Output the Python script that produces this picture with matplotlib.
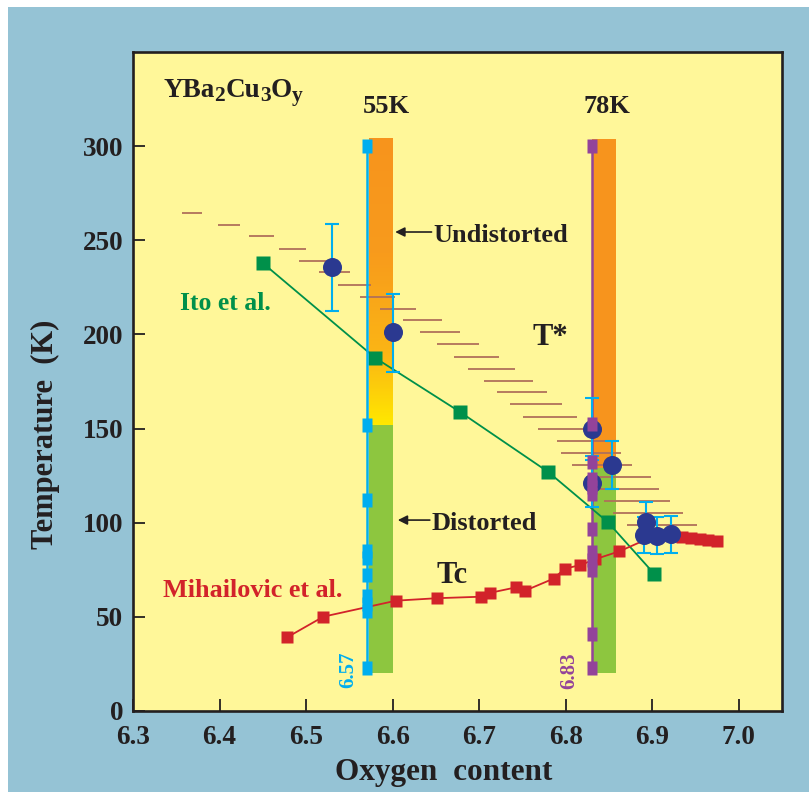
import matplotlib.pyplot as plt
import numpy as np
from matplotlib.colors import LinearSegmentedColormap
from matplotlib.patches import Rectangle
from matplotlib.transforms import offset_copy

plt.rcParams['font.family'] = ['Liberation Serif', 'DejaVu Serif']
plt.rcParams['font.weight'] = 'bold'
plt.rcParams['axes.labelweight'] = 'bold'

# Ito et al. (green)
ito_x = [6.450, 6.580, 6.678, 6.780, 6.849, 6.902]
ito_t = [237.9, 187.5, 158.8, 126.9, 100.2, 73.0]

# Mihailovic et al. Tc (red)
mih_x = [6.478, 6.520, 6.604, 6.651, 6.702, 6.713, 6.743, 6.753, 6.786, 6.799,
         6.817, 6.834, 6.862, 6.905, 6.915, 6.925, 6.935, 6.945, 6.955, 6.965, 6.975]
mih_t = [39.1, 50.1, 58.6, 59.9, 60.7, 62.8, 65.7, 63.9, 70.3, 75.6,
         77.5, 80.6, 84.8, 93.5, 93.5, 93.0, 92.5, 92.0, 91.5, 91.0, 90.5]

# T* points with error bars (blue)
tstar_x = [6.530, 6.600, 6.830, 6.830, 6.853, 6.893, 6.891, 6.905, 6.922]
tstar_t = [235.6, 201.1, 150.0, 121.2, 130.6, 100.5, 93.5, 93.0, 94.0]
tstar_lo = [23.0, 20.9, 14.6, 12.7, 12.7, 10.5, 9.5, 9.6, 10.0]
tstar_hi = [22.9, 20.2, 16.5, 12.1, 12.8, 10.5, 9.3, 9.8, 9.4]

# T* crossover region, short horizontal strokes
hatch_t = [264.7, 258.3, 252.1, 245.6, 239.2, 232.9, 226.5, 220.1, 213.7, 207.4,
           201.1, 194.7, 188.1, 181.8, 175.5, 169.2, 162.8, 156.4, 149.8, 143.5,
           137.1, 130.7, 124.4, 118.0, 111.6, 105.3, 98.9]
hatch_x0 = [6.357, 6.398, 6.434, 6.469, 6.492, 6.515, 6.537, 6.562, 6.585, 6.612,
            6.632, 6.651, 6.671, 6.687, 6.706, 6.721, 6.736, 6.751, 6.768, 6.790,
            6.795, 6.807, 6.824, 6.831, 6.844, 6.855, 6.871]
hatch_x1 = [6.380, 6.424, 6.463, 6.500, 6.527, 6.551, 6.575, 6.603, 6.627, 6.657,
            6.678, 6.700, 6.723, 6.741, 6.762, 6.779, 6.796, 6.813, 6.830, 6.855,
            6.864, 6.877, 6.899, 6.908, 6.921, 6.936, 6.952]

# samples measured at y = 6.57 and y = 6.83
y657 = 6.57
y657_t = [300, 152, 112, 85.2, 81.0, 72.2, 61.0, 57.0, 53.0, 22.7]
y683 = 6.83
y683_t = [300, 152.5, 132.5, 123, 119, 115.5, 96.5, 84.5, 80, 75, 41, 22.7]

# distorted / undistorted bands
band55_x = (6.573, 6.600)
band78_x = (6.831, 6.858)
band_top = 304
band_bottom = 20
band55_split = 152
band78_split = 129

# chemical formula pieces: (text, is_subscript)
formula = [('YBa', False), ('2', True), ('Cu', False), ('3', True),
           ('O', False), ('y', True)]

BLUE_BG = '#95C3D5'
FACE = '#FFF799'
ORANGE = '#F7941D'
YELLOW = '#FFE800'
GREEN_BAND = '#8DC63F'
CYAN = '#00AEEF'
PURPLE = '#93439A'
NAVY = '#2B3990'
RED = '#D2232A'
DKGREEN = '#00904A'
HATCH = '#B0705A'
INK = '#231F20'

fig = plt.figure(figsize=(8.09, 7.92), dpi=100)
fig.patch.set_facecolor('white')
fig.add_artist(Rectangle((8 / 809, 0), 1 - 8 / 809, 1 - 7 / 792,
                         transform=fig.transFigure, facecolor=BLUE_BG,
                         edgecolor='none', zorder=-10))

ax = fig.add_axes([133 / 809, 81 / 792, 649 / 809, 659 / 792])
ax.set_facecolor(FACE)

# 55K band: orange fading to yellow above, green below
grad_cmap = LinearSegmentedColormap.from_list(
    'undist', [(0, ORANGE), (0.4, '#F89B1C'), (0.75, '#FBB515'), (1, YELLOW)])
grad = np.linspace(0, 1, 256).reshape(-1, 1)
ax.imshow(grad, extent=[band55_x[0], band55_x[1], band55_split, band_top],
          origin='upper', aspect='auto', cmap=grad_cmap, zorder=1)
ax.add_patch(Rectangle((band55_x[0], band_bottom), band55_x[1] - band55_x[0],
                       band55_split - band_bottom, facecolor=GREEN_BAND,
                       edgecolor='none', zorder=1))
# 78K band
ax.add_patch(Rectangle((band78_x[0], band78_split), band78_x[1] - band78_x[0],
                       band_top - band78_split, facecolor=ORANGE,
                       edgecolor='none', zorder=1))
ax.add_patch(Rectangle((band78_x[0], band_bottom), band78_x[1] - band78_x[0],
                       band78_split - band_bottom, facecolor=GREEN_BAND,
                       edgecolor='none', zorder=1))

ax.hlines(hatch_t, hatch_x0, hatch_x1, colors=HATCH, linewidth=1.3, zorder=2)

# vertical sample lines
rect = [(-0.38, -0.5), (0.38, -0.5), (0.38, 0.5), (-0.38, 0.5), (-0.38, -0.5)]
ax.plot([y657] * len(y657_t), y657_t, color=CYAN, lw=1.8, marker=rect,
        ms=9.4, mec='none', zorder=6)
ax.plot([y683] * len(y683_t), y683_t, color=PURPLE, lw=1.8, zorder=4)

ax.plot(ito_x, ito_t, color=DKGREEN, lw=1.3, marker='s', ms=10.5,
        mec='none', zorder=5)
ax.plot(mih_x, mih_t, color=RED, lw=1.3, marker='s', ms=8.6,
        mec='none', zorder=5)

ax.errorbar(tstar_x, tstar_t, yerr=[tstar_lo, tstar_hi], fmt='none',
            ecolor=CYAN, elinewidth=1.5, capsize=4.7, capthick=1.5, zorder=6)
ax.plot(tstar_x, tstar_t, 'o', color=NAVY, ms=13.7, mec='none', zorder=7)

ax.plot([y683] * len(y683_t), y683_t, linestyle='none', marker=rect,
        ms=9.4, color=PURPLE, mec='none', zorder=8)

ax.set_xlim(6.3, 7.05)
ax.set_ylim(0, 350)
ax.set_xticks([6.3, 6.4, 6.5, 6.6, 6.7, 6.8, 6.9, 7.0])
ax.set_xticklabels(['6.3', '6.4', '6.5', '6.6', '6.7', '6.8', '6.9', '7.0'],
                   fontweight='bold')
ax.set_yticks([0, 50, 100, 150, 200, 250, 300])
ax.set_yticklabels(['0', '50', '100', '150', '200', '250', '300'],
                   fontweight='bold')
ax.tick_params(direction='in', length=8.5, width=1.3, color=INK,
               labelsize=19.5, labelcolor=INK)
ax.tick_params(axis='y', pad=7)
ax.tick_params(axis='x', pad=10)
for s in ax.spines.values():
    s.set_linewidth(1.9)
    s.set_color(INK)

ax.set_xlabel('Oxygen  content', fontsize=22.5, color=INK, fontweight='bold')
ax.set_ylabel('Temperature  (K)', fontsize=22, color=INK, fontweight='bold')
ax.xaxis.set_label_coords(0.478, -0.071)
ax.yaxis.set_label_coords(-0.112, 0.42)

# formula written piece by piece so the subscripts stay large
renderer = fig.canvas.get_renderer()
trans = ax.transData
dx = 0.0
for piece, sub in formula:
    t = ax.text(6.335, 326, piece, fontsize=15.5 if sub else 19.5, color=INK,
                va='baseline', fontweight='bold',
                transform=offset_copy(trans, fig=fig, x=dx,
                                      y=-3 if sub else 0, units='points'))
    dx += t.get_window_extent(renderer).width * 72 / fig.dpi

ax.text(6.593, 317.6, '55K', fontsize=19, color=INK, ha='center',
        va='baseline', fontweight='bold')
ax.text(6.848, 317.6, '78K', fontsize=19, color=INK, ha='center',
        va='baseline', fontweight='bold')

ax.annotate('', xy=(6.603, 254.4), xytext=(6.645, 254.4),
            arrowprops=dict(arrowstyle='-|>', color=INK, lw=1.2,
                            mutation_scale=14, shrinkA=0, shrinkB=0))
ax.text(6.647, 249.2, 'Undistorted', fontsize=19, color=INK, va='baseline',
        fontweight='bold')
ax.annotate('', xy=(6.606, 101.4), xytext=(6.643, 101.4),
            arrowprops=dict(arrowstyle='-|>', color=INK, lw=1.2,
                            mutation_scale=14, shrinkA=0, shrinkB=0))
ax.text(6.645, 96.1, 'Distorted', fontsize=19, color=INK, va='baseline',
        fontweight='bold')

ax.text(6.762, 194.4, 'T*', fontsize=22, color=INK, va='baseline',
        fontweight='bold')
ax.text(6.651, 68.1, 'Tc', fontsize=22, color=INK, va='baseline',
        fontweight='bold')

ax.text(6.354, 213, 'Ito et al.', fontsize=18.5, color=DKGREEN,
        va='baseline', fontweight='bold')
ax.text(6.335, 60.7, 'Mihailovic et al.', fontsize=18.8, color=RED,
        va='baseline', fontweight='bold')

ax.text(6.549, 21.8, '6.57', fontsize=15, color=CYAN, rotation=90,
        ha='center', va='center', fontweight='bold')
ax.text(6.804, 21.4, '6.83', fontsize=15, color=PURPLE, rotation=90,
        ha='center', va='center', fontweight='bold')

fig.savefig('out.png', dpi=100)
